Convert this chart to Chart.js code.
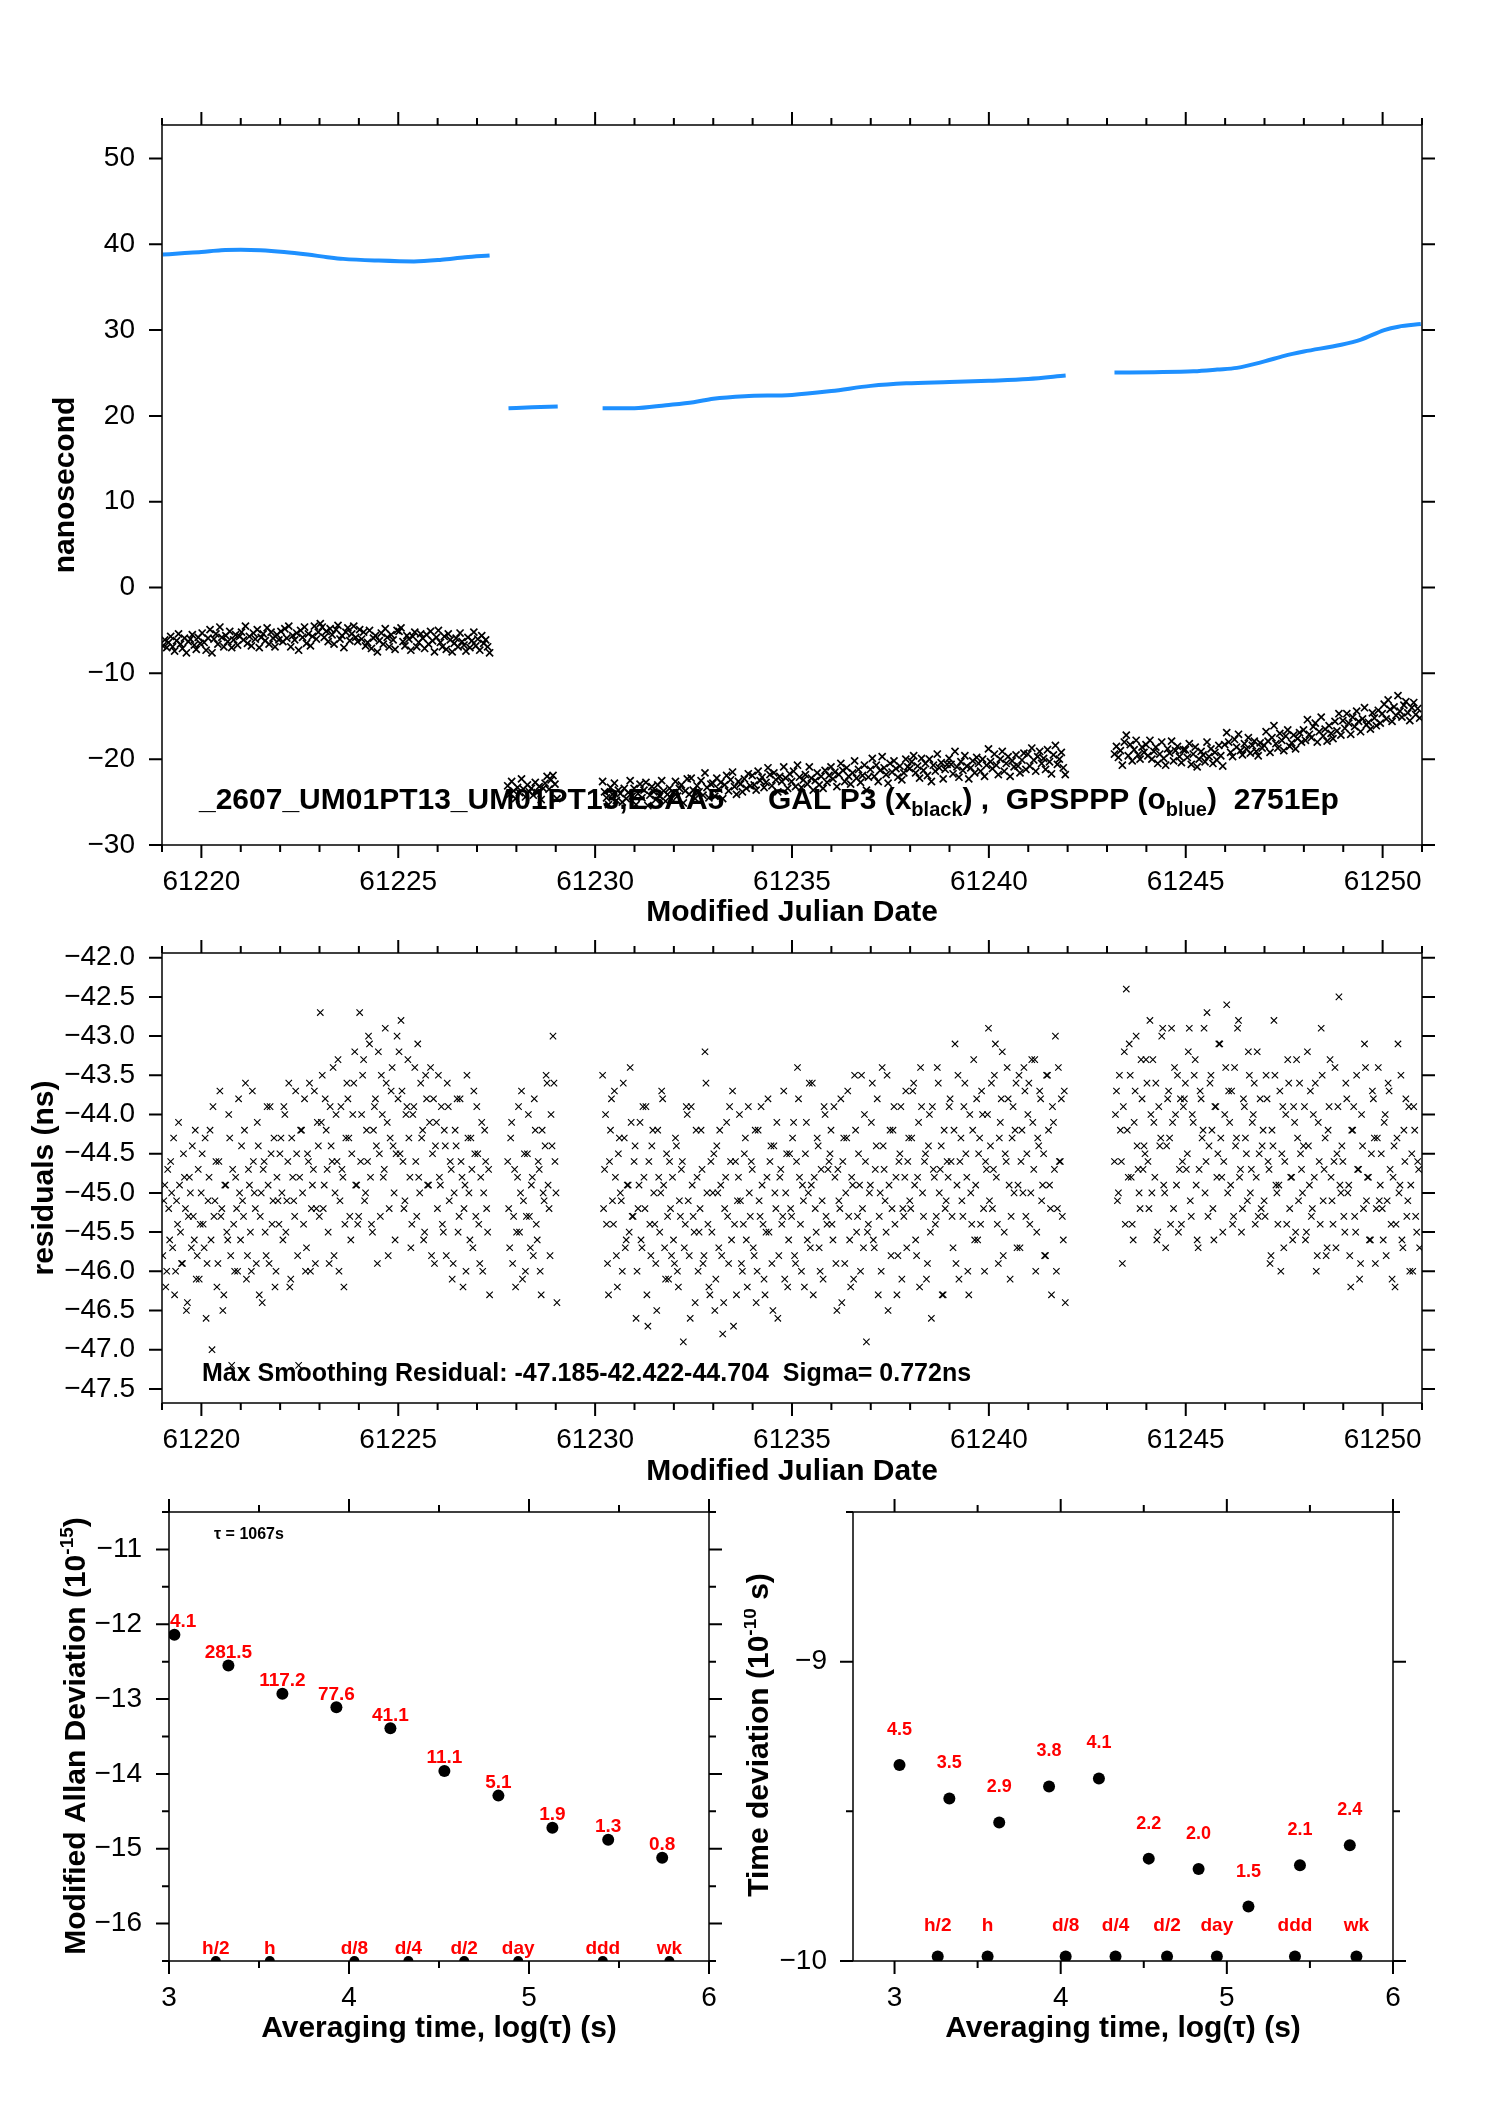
<!DOCTYPE html>
<html>
<head>
<meta charset="utf-8">
<script src="https://cdn.jsdelivr.net/npm/chart.js@4.4.1/dist/chart.umd.min.js"></script>
<style>
  body { margin: 0; background: #fff; width: 1488px; height: 2105px; position: relative; overflow: hidden; }
  canvas { position: absolute; }
</style>
</head>
<body>
<canvas id="clockChart" width="1488" height="935" style="left:0;top:0"></canvas>
<canvas id="residualChart" width="1488" height="590" style="left:0;top:905px"></canvas>
<canvas id="adevChart" width="744" height="640" style="left:0;top:1465px"></canvas>
<canvas id="tdevChart" width="744" height="640" style="left:744px;top:1465px"></canvas>
<script>
var FONT = '"Liberation Sans", Arial, Helvetica, sans-serif';
Chart.defaults.font.family = FONT;
Chart.defaults.color = '#000';
Chart.defaults.animation = false;
Chart.defaults.plugins.legend.display = false;
Chart.defaults.plugins.tooltip.enabled = false;

// sampling of the GAL P3 / residual series (days)
var sampleStep = 0.05;
var segStart = [61219.02, 61227.78, 61230.19, 61243.19];

// GPSPPP (blue), [MJD, ns]
var gpsSegA = [[61219.02,38.8],[61219.5,38.95],[61220.0,39.1],[61220.5,39.3],[61221.0,39.35],[61221.5,39.3],[61222.1,39.1],[61222.7,38.8],[61223.2,38.5],[61223.6,38.3],[61224.5,38.1],[61225.4,38.0],[61226.1,38.2],[61226.7,38.5],[61227.32,38.7]];
var gpsSegB = [[61227.8,20.9],[61228.4,21.0],[61229.05,21.1]];
var gpsSegC = [[61230.19,20.9],[61231.0,20.9],[61231.8,21.25],[61232.5,21.6],[61233.0,22.0],[61233.8,22.3],[61235.0,22.45],[61236.0,22.9],[61237.0,23.5],[61237.9,23.8],[61239.0,23.95],[61240.0,24.1],[61241.0,24.3],[61241.95,24.7]];
var gpsSegD = [[61243.19,25.06],[61244.2,25.1],[61245.2,25.2],[61245.8,25.4],[61246.3,25.6],[61247.0,26.35],[61247.5,27.0],[61248.0,27.5],[61248.95,28.3],[61249.45,28.9],[61250.04,30.0],[61250.4,30.4],[61250.97,30.7]];

// GAL P3 (black x), ns
var galSeg1 = [-6.8,-6.1,-7.0,-6.4,-5.7,-6.9,-7.4,-6.2,-5.4,-6.6,-7.1,-5.9,-7.6,-6.3,-6.0,-5.5,-6.7,-7.2,-5.8,-6.5,
  -5.3,-6.4,-7.3,-5.9,-4.9,-7.6,-6.0,-5.4,-6.6,-4.6,-5.8,-6.9,-5.6,-6.3,-5.1,-7.0,-6.1,-5.5,-6.7,-5.7,
  -5.2,-6.1,-4.5,-6.5,-5.7,-6.8,-5.3,-6.0,-4.9,-7.0,-5.8,-5.4,-6.2,-4.7,-6.6,-5.2,-5.9,-6.9,-5.5,-6.1,
  -5.1,-6.3,-4.8,-5.9,-4.5,-6.9,-5.6,-6.1,-5.3,-7.3,-5.0,-5.8,-4.6,-6.5,-5.4,-6.8,-5.7,-4.5,-6.0,-5.2,
  -4.2,-4.6,-5.8,-5.1,-6.3,-4.8,-5.5,-6.6,-4.9,-4.4,-6.0,-5.6,-7.0,-5.2,-4.7,-6.2,-5.4,-4.5,-5.8,-6.3,
  -4.9,-6.0,-5.2,-6.8,-6.4,-5.0,-7.1,-5.9,-5.6,-7.5,-6.2,-5.3,-6.6,-4.8,-5.8,-6.9,-5.5,-6.1,-7.2,-5.0,
  -5.1,-4.7,-6.3,-6.8,-5.6,-6.0,-7.3,-5.7,-5.2,-6.9,-6.4,-5.4,-5.9,-7.1,-5.5,-6.6,-5.1,-6.2,-7.5,-5.8,
  -5.0,-6.4,-6.9,-5.7,-7.2,-5.4,-6.1,-7.5,-6.5,-5.9,-6.9,-5.3,-6.3,-6.7,-7.4,-5.8,-7.0,-6.2,-5.2,-6.8,-6.0,-7.3,-5.6,-6.5,-6.1,-6.9,-7.6];
var galSeg2 = [-23.1,-24.1,-22.6,-23.7,-24.6,-23.3,-23.9,-22.3,-23.5,-24.4,-23.0,-23.8,-23.4,-24.2,-22.7,-23.9,-23.2,-24.7,-23.4,-22.8,-22.0,-23.5,-22.4,-21.9,-22.9,-24.6];
var galSeg3 = [-22.6,-23.8,-24.5,-25.3,-23.3,-24.1,-22.8,-24.8,-23.6,-24.0,-25.0,-23.4,-24.6,-23.9,-22.5,-24.3,
  -23.4,-25.3,-24.0,-22.9,-24.5,-23.6,-22.7,-25.4,-24.2,-23.2,-23.8,-24.7,-23.0,-24.3,-22.5,-23.7,-24.9,-24.1,-23.4,-24.6,
  -23.9,-22.6,-24.3,-23.4,-23.0,-25.1,-23.7,-22.3,-24.1,-22.2,-23.6,-24.6,-23.1,-23.8,-22.5,-24.2,-21.6,-23.3,-24.5,-22.9,
  -22.8,-24.3,-22.2,-23.5,-22.7,-24.6,-23.0,-21.9,-23.7,-22.4,-21.5,-23.2,-24.1,-22.6,-22.9,-23.8,-22.3,-23.4,-21.7,-23.1,
  -21.9,-23.0,-23.6,-21.4,-22.5,-22.1,-23.3,-22.7,-21.0,-21.8,-23.1,-21.6,-22.4,-23.8,-22.0,-22.6,-20.9,-22.2,-23.4,-21.7,
  -22.6,-21.4,-23.2,-20.7,-22.1,-23.3,-22.4,-21.8,-22.9,-20.9,-22.2,-23.6,-22.5,-21.6,-23.0,-22.0,-23.4,-21.3,-22.7,-21.9,
  -20.9,-22.3,-21.5,-23.2,-21.8,-20.5,-21.3,-22.6,-21.0,-22.0,-22.9,-21.6,-20.2,-22.2,-21.2,-22.7,-21.9,-20.7,-23.6,-22.1,
  -21.2,-19.9,-22.0,-20.7,-22.6,-21.3,-19.7,-21.0,-21.8,-22.8,-20.5,-21.5,-20.2,-21.1,-22.1,-20.8,-22.4,-21.6,-20.0,-20.9,
  -21.1,-20.3,-19.6,-21.6,-20.8,-22.2,-19.9,-21.3,-20.5,-21.9,-20.0,-22.6,-20.7,-21.4,-19.4,-21.0,-20.4,-22.3,-21.2,-20.6,
  -19.9,-20.6,-21.7,-19.1,-20.9,-22.1,-20.3,-21.3,-19.6,-20.8,-22.3,-21.0,-20.2,-21.6,-19.8,-20.5,-21.4,-20.0,-22.0,-20.7,
  -18.8,-20.3,-21.1,-19.4,-20.7,-21.8,-20.0,-19.1,-21.4,-20.5,-19.7,-22.0,-20.2,-20.9,-19.5,-20.8,-21.6,-20.1,-19.3,-21.2,
  -19.4,-20.8,-18.7,-20.1,-21.4,-19.7,-19.1,-20.5,-19.9,-21.2,-18.9,-20.3,-21.7,-19.5,-18.4,-20.6,-20.0,-19.2,-21.0,-21.8];
var galSeg4 = [-19.4,-18.5,-19.8,-19.0,-20.7,-18.0,-17.2,-19.6,-18.3,-20.2,-18.9,-17.8,-19.5,-20.0,-18.6,-19.2,
  -18.3,-19.6,-17.8,-20.0,-19.1,-18.6,-20.5,-19.4,-18.0,-19.9,-20.7,-18.8,-19.3,-17.9,-20.2,-19.0,-18.5,-19.7,-20.4,-18.9,
  -18.9,-19.8,-18.2,-20.6,-19.4,-18.6,-20.9,-20.0,-19.1,-19.5,-20.3,-18.0,-19.7,-18.8,-20.5,-19.2,-20.1,-18.4,-19.6,-20.8,
  -18.3,-16.9,-18.0,-19.2,-19.7,-17.7,-18.6,-17.1,-19.0,-19.5,-18.2,-18.8,-17.5,-19.3,-18.4,-17.9,-19.1,-19.6,-18.1,-18.7,
  -18.4,-16.8,-17.9,-19.2,-17.5,-16.1,-18.2,-18.7,-17.0,-17.8,-19.0,-17.3,-16.6,-18.5,-18.1,-17.2,-18.8,-17.6,-16.9,-18.0,
  -16.6,-17.8,-15.4,-17.1,-17.5,-16.2,-15.8,-18.0,-16.8,-15.1,-17.3,-16.5,-17.9,-16.1,-17.0,-17.6,-15.6,-16.7,-14.7,-17.2,
  -15.5,-16.4,-14.7,-15.8,-17.1,-15.1,-16.2,-14.4,-15.6,-16.8,-15.3,-14.0,-16.0,-15.7,-16.5,-14.6,-15.2,-16.1,-14.3,-15.8,
  -14.7,-13.6,-15.3,-13.1,-14.2,-15.6,-13.9,-14.9,-12.6,-14.4,-15.1,-13.7,-13.3,-14.6,-15.5,-14.0,-13.4,-14.8,-14.1,-15.2];

// residuals, ns (samples on the step)
var resSeg1 = [-45.8,-44.9,-46.0,-45.2,-44.6,-45.7,-46.3,-45.1,-44.1,-45.5,-45.9,-44.8,-46.5,-45.3,-45.0,-44.4,-45.6,-46.1,-44.7,-45.4,
  -44.5,-45.7,-46.6,-45.1,-44.2,-47.0,-45.3,-44.6,-45.9,-43.7,-45.2,-46.3,-44.9,-45.6,-44.3,-47.2,-45.4,-44.8,-46.0,-45.0,
  -44.4,-45.3,-43.6,-45.8,-44.9,-46.0,-44.6,-45.2,-44.1,-46.3,-45.0,-44.7,-45.5,-43.9,-45.9,-44.5,-45.1,-46.2,-44.8,-45.4,
  -44.3,-45.6,-44.0,-45.1,-43.6,-46.1,-44.8,-45.3,-44.5,-47.2,-44.2,-45.0,-43.8,-45.7,-44.6,-46.0,-44.9,-43.7,-45.2,-44.4,
  -42.7,-43.5,-44.9,-44.2,-45.5,-43.9,-44.6,-45.8,-44.0,-43.3,-45.1,-44.7,-46.2,-44.3,-43.8,-45.3,-44.5,-43.6,-44.9,-45.4,
  -42.7,-44.0,-43.3,-45.0,-44.6,-43.1,-45.4,-44.2,-43.8,-45.9,-44.5,-43.5,-44.8,-42.9,-44.1,-45.2,-43.7,-44.4,-45.6,-43.0,
  -43.2,-42.8,-44.6,-45.1,-43.9,-44.3,-45.7,-44.0,-43.4,-45.3,-44.8,-43.6,-44.2,-45.5,-43.8,-44.9,-43.4,-44.5,-45.9,-44.1,
  -43.5,-44.9,-45.4,-44.2,-45.8,-43.9,-44.6,-46.1,-45.0,-44.4,-45.5,-43.8,-44.8,-45.2,-46.0,-44.3,-45.6,-44.7,-43.7,-45.3,-44.5,-45.9,-44.1,-45.0,-44.6,-45.5,-46.3];
var resSeg2 = [-44.6,-45.7,-44.1,-45.3,-46.2,-44.8,-45.5,-43.7,-45.1,-46.0,-44.5,-45.3,-44.9,-45.8,-44.2,-45.6,-44.7,-46.3,-45.0,-44.4,-43.6,-45.2,-44.0,-43.0,-44.6,-46.4];
var resSeg3 = [-43.5,-44.7,-45.4,-46.3,-44.2,-45.1,-43.7,-45.8,-44.5,-45.0,-46.0,-44.3,-45.6,-44.9,-43.4,-45.3,
  -44.6,-46.6,-45.2,-44.1,-45.7,-44.8,-43.9,-46.7,-45.4,-44.4,-45.0,-45.9,-44.2,-45.5,-43.7,-44.9,-46.1,-45.3,-44.6,-45.8,
  -45.6,-44.3,-46.0,-45.1,-44.7,-46.9,-45.4,-44.0,-45.8,-43.9,-45.3,-46.4,-44.8,-45.5,-44.2,-45.9,-43.2,-45.0,-46.2,-44.6,
  -45.0,-46.5,-44.4,-45.7,-44.9,-46.8,-45.2,-44.1,-45.9,-44.6,-43.7,-45.4,-46.3,-44.8,-45.1,-46.0,-44.5,-45.6,-43.9,-45.3,
  -44.7,-45.8,-46.4,-44.2,-45.3,-44.9,-46.1,-45.5,-43.8,-44.6,-45.9,-44.4,-45.2,-46.6,-44.8,-45.4,-43.7,-45.0,-46.2,-44.5,
  -45.3,-44.1,-45.9,-43.4,-44.8,-46.0,-45.1,-44.5,-45.6,-43.6,-44.9,-46.3,-45.2,-44.3,-45.7,-44.7,-46.1,-44.0,-45.4,-44.6,
  -44.2,-45.6,-44.8,-46.5,-45.1,-43.8,-44.6,-45.9,-44.3,-45.3,-46.2,-44.9,-43.5,-45.5,-44.5,-46.0,-45.2,-44.0,-46.9,-45.4,
  -44.9,-43.6,-45.7,-44.4,-46.3,-45.0,-43.4,-44.7,-45.5,-46.5,-44.2,-45.2,-43.9,-44.8,-45.8,-44.5,-46.1,-45.3,-43.7,-44.6,
  -45.1,-44.3,-43.6,-45.6,-44.8,-46.2,-43.9,-45.3,-44.5,-45.9,-44.0,-46.6,-44.7,-45.4,-43.4,-45.0,-44.4,-46.3,-45.2,-44.6,
  -43.9,-44.6,-45.7,-43.1,-44.9,-46.1,-44.3,-45.3,-43.6,-44.8,-46.3,-45.0,-44.2,-45.6,-43.8,-44.5,-45.4,-44.0,-46.0,-44.7,
  -42.9,-44.4,-45.2,-43.5,-44.8,-45.9,-44.1,-43.2,-45.5,-44.6,-43.8,-46.1,-44.3,-45.0,-43.6,-44.9,-45.7,-44.2,-43.4,-45.3,
  -44.0,-45.4,-43.3,-44.7,-46.0,-44.3,-43.7,-45.1,-44.5,-45.8,-43.5,-44.9,-46.3,-44.1,-43.0,-45.2,-44.6,-43.8,-45.6,-46.4];
var resSeg4 = [-44.6,-43.7,-45.0,-44.2,-45.9,-43.2,-42.4,-44.8,-43.5,-45.4,-44.1,-43.0,-44.7,-45.2,-43.8,-44.4,
  -43.3,-44.6,-42.8,-45.0,-44.1,-43.6,-45.5,-44.4,-43.0,-44.9,-45.7,-43.8,-44.3,-42.9,-45.2,-44.0,-43.5,-44.7,-45.4,-43.9,
  -43.6,-44.5,-42.9,-45.3,-44.1,-43.3,-45.6,-44.7,-43.8,-44.2,-45.0,-42.7,-44.4,-43.5,-45.2,-43.9,-44.8,-43.1,-44.3,-45.5,
  -44.0,-42.6,-43.7,-44.9,-45.4,-43.4,-44.3,-42.8,-44.7,-45.2,-43.9,-44.5,-43.2,-45.0,-44.1,-43.6,-44.8,-45.3,-43.8,-44.4,
  -45.1,-43.5,-44.6,-45.9,-44.2,-42.8,-44.9,-45.4,-43.7,-44.5,-45.7,-44.0,-43.3,-45.2,-44.8,-43.9,-45.5,-44.3,-43.6,-44.7,
  -44.4,-45.6,-43.2,-44.9,-45.3,-44.0,-43.6,-45.8,-44.6,-42.9,-45.1,-44.3,-45.7,-43.9,-44.8,-45.4,-43.4,-44.5,-42.5,-45.0,
  -44.6,-45.5,-43.8,-44.9,-46.2,-44.2,-45.3,-43.5,-44.7,-45.9,-44.4,-43.1,-45.1,-44.8,-45.6,-43.7,-44.3,-45.2,-43.4,-44.9,
  -45.2,-44.1,-45.8,-43.6,-44.7,-46.1,-44.4,-45.4,-43.1,-44.9,-45.6,-44.2,-43.8,-45.1,-46.0,-44.5,-43.9,-45.3,-44.6,-45.7];
// residuals, ns (samples half a step later)
var resSeg1Mid = [-45.1,-46.2,-44.7,-45.6,-45.0,-44.3,-46.0,-45.4,-44.9,-45.9,-44.5,-45.2,-46.4,-44.8,-45.7,-45.3,-44.2,-45.8,-46.1,-45.0,
  -45.4,-44.3,-45.9,-44.8,-45.6,-43.9,-45.1,-46.2,-44.6,-45.3,-46.5,-44.9,-45.5,-44.0,-45.8,-44.7,-46.0,-45.2,-43.8,-45.6,
  -45.1,-44.2,-46.1,-44.7,-45.5,-43.7,-45.0,-45.9,-44.4,-45.3,-46.4,-44.6,-45.8,-44.9,-43.9,-45.4,-44.3,-46.0,-45.1,-44.5,
  -45.0,-43.9,-45.5,-44.6,-46.2,-44.3,-45.1,-43.7,-45.8,-44.8,-44.2,-45.4,-46.0,-44.5,-43.6,-45.2,-44.7,-45.9,-44.1,-45.3,
  -44.1,-45.2,-43.8,-44.7,-45.9,-44.4,-43.4,-45.0,-44.6,-46.0,-43.9,-44.8,-45.4,-43.6,-44.3,-45.6,-44.0,-43.2,-44.9,-45.3,
  -44.6,-43.5,-45.1,-44.2,-43.0,-44.8,-45.5,-43.9,-44.4,-43.2,-45.3,-44.0,-44.7,-43.6,-45.8,-44.3,-43.4,-45.0,-44.5,-43.8,
  -44.5,-43.7,-45.2,-44.0,-43.3,-44.8,-45.4,-43.9,-44.6,-43.1,-45.0,-44.3,-45.6,-43.5,-44.9,-44.1,-45.8,-43.8,-44.4,-45.2,
  -44.8,-43.9,-45.5,-44.4,-43.6,-45.1,-44.7,-45.9,-44.2,-43.8,-45.3,-44.6,-46.2,-44.9,-43.5,-45.0,-44.3,-45.7,-44.5,-43.9,-45.4,-44.8,-46.0,-44.2,-45.2,-44.7];
var resSeg2Mid = [-45.2,-44.3,-45.9,-44.7,-45.5,-43.9,-45.0,-46.1,-44.5,-45.3,-44.0,-45.7,-44.8,-43.8,-45.4,-44.6,-46.0,-44.2,-45.1,-43.5,-44.9,-45.8,-44.4,-43.6,-45.0];
var resSeg3Mid = [-45.2,-44.0,-45.9,-44.6,-43.8,-45.4,-44.8,-46.2,-44.3,-45.1,-43.6,-45.7,-44.9,-45.5,-44.1,
  -45.3,-44.4,-46.0,-44.9,-45.6,-43.9,-45.2,-46.3,-44.6,-45.8,-44.2,-45.4,-46.5,-44.8,-45.0,-43.8,-45.7,-44.5,-46.1,-45.2,
  -44.8,-45.9,-44.4,-46.2,-45.3,-44.6,-45.7,-43.9,-45.1,-46.6,-44.9,-45.5,-44.2,-46.0,-45.2,-44.7,-45.8,-43.6,-45.4,-46.3,
  -45.5,-44.5,-46.1,-45.0,-44.2,-45.8,-46.4,-44.8,-45.3,-43.9,-45.6,-46.7,-44.6,-45.1,-44.0,-45.9,-45.4,-44.3,-46.2,-45.0,
  -44.6,-45.7,-44.2,-46.0,-45.1,-43.9,-45.4,-46.3,-44.8,-45.5,-44.4,-46.5,-45.0,-44.1,-45.8,-44.7,-45.3,-46.1,-44.5,-45.6,
  -45.2,-44.3,-45.8,-44.6,-43.8,-45.4,-44.9,-46.2,-44.1,-45.0,-45.7,-43.6,-44.8,-45.5,-44.4,-46.0,-45.1,-43.9,-45.3,-44.7,
  -44.5,-45.4,-43.9,-45.9,-44.7,-45.2,-46.4,-44.3,-45.0,-43.7,-45.6,-44.8,-46.1,-44.2,-45.3,-44.9,-43.5,-45.7,-44.6,-45.5,
  -45.0,-44.1,-45.6,-44.7,-43.8,-45.3,-46.0,-44.4,-45.1,-43.5,-44.9,-45.8,-44.2,-45.4,-46.3,-44.6,-43.9,-45.2,-44.8,-45.7,
  -44.3,-45.2,-43.7,-44.9,-45.8,-44.1,-43.4,-45.0,-44.6,-46.1,-44.4,-45.5,-43.9,-44.8,-45.3,-43.6,-44.7,-46.3,-44.2,-45.1,
  -44.8,-43.8,-45.3,-44.2,-45.9,-43.5,-44.6,-45.1,-43.9,-44.5,-46.0,-44.0,-45.4,-43.3,-44.9,-45.6,-44.3,-43.7,-45.2,-44.6,
  -44.0,-45.1,-43.6,-44.7,-43.1,-45.4,-44.3,-43.8,-45.8,-44.5,-43.4,-44.9,-45.3,-43.9,-44.2,-45.7,-43.5,-44.6,-45.0,-43.7,
  -44.5,-43.6,-45.0,-44.1,-43.3,-45.5,-44.4,-43.8,-44.9,-45.8,-43.5,-44.2,-45.2,-43.9,-44.7,-46.0,-43.4,-44.6,-45.3,-43.7];
var resSeg4Mid = [-44.0,-45.1,-43.5,-44.6,-43.9,-45.4,-44.2,-43.1,-44.8,-45.6,-43.7,-44.4,-45.0,-43.3,-44.7,
  -44.5,-43.6,-45.2,-44.0,-43.3,-44.8,-45.6,-43.9,-44.3,-42.9,-45.0,-44.4,-43.7,-45.4,-44.1,-43.4,-44.9,-45.5,-43.8,-44.6,
  -43.8,-44.7,-43.2,-45.1,-44.0,-43.5,-44.9,-45.7,-43.7,-44.3,-42.9,-44.6,-45.3,-43.6,-44.2,-45.6,-43.9,-44.5,-43.1,-44.8,
  -44.6,-43.4,-45.0,-44.1,-43.7,-45.3,-44.4,-42.9,-44.8,-45.5,-43.8,-44.3,-45.1,-43.5,-44.7,-44.0,-45.4,-43.2,-44.5,-45.2,
  -44.2,-45.3,-43.8,-44.7,-45.8,-44.4,-43.5,-45.0,-44.9,-46.0,-43.9,-44.6,-45.4,-43.6,-44.8,-45.6,-44.1,-43.3,-45.1,-44.5,
  -45.0,-43.9,-45.5,-44.4,-43.7,-45.2,-44.8,-46.0,-44.1,-45.4,-43.5,-44.7,-45.8,-44.2,-43.3,-45.1,-44.6,-45.7,-43.9,-44.9,
  -44.4,-45.3,-43.6,-45.0,-45.8,-44.2,-43.9,-45.5,-44.7,-46.1,-44.0,-45.2,-43.4,-44.8,-45.6,-44.5,-43.8,-45.9,-44.3,-45.1,
  -44.5,-45.6,-44.0,-45.1,-43.7,-45.4,-44.8,-46.2,-44.3,-45.0,-43.5,-45.7,-44.6,-45.3,-43.9,-44.9,-46.0,-44.2,-45.5,-44.7];

// stability, log10(tau/s)
var adevX = [3.03, 3.33, 3.63, 3.93, 4.23, 4.53, 4.83, 5.13, 5.44, 5.74];
var adevY = [-12.14, -12.55, -12.93, -13.11, -13.39, -13.96, -14.29, -14.72, -14.88, -15.12];
var adevLabels = ['4.1', '281.5', '117.2', '77.6', '41.1', '11.1', '5.1', '1.9', '1.3', '0.8'];
var tdevX = [3.03, 3.33, 3.63, 3.93, 4.23, 4.53, 4.83, 5.13, 5.44, 5.74];
var tdevY = [-9.345, -9.457, -9.537, -9.417, -9.390, -9.658, -9.693, -9.818, -9.680, -9.613];
var tdevLabels = ['4.5', '3.5', '2.9', '3.8', '4.1', '2.2', '2.0', '1.5', '2.1', '2.4'];
var spanX = [3.26, 3.56, 4.03, 4.33, 4.64, 4.94, 5.41, 5.78];
var spanNames = ['h/2', 'h', 'd/8', 'd/4', 'd/2', 'day', 'ddd', 'wk'];
var adevFloor = -16.5;
var tdevFloor = -9.985;

function segPoints(start, values) {
  return values.map(function(v, i) { return {x: start + i * sampleStep, y: v}; });
}
function pairPoints(pairs) {
  return pairs.map(function(p) { return {x: p[0], y: p[1]}; });
}
function xyPoints(xs, ys) {
  return xs.map(function(x, i) { return {x: x, y: ys[i]}; });
}
function minusFmt(v) { return v < 0 ? '\u2212' + Math.abs(v) : String(v); }
function minusFmt1(v) { return (v < 0 ? '\u2212' : '') + Math.abs(v).toFixed(1); }

// ticks at whole multiples of the step, inside [min, max]
function stepTicks(step) {
  return function(s) {
    var out = [];
    for (var i = Math.ceil(s.min / step - 1e-6); i * step <= s.max + 1e-6; i++) {
      out.push({value: +(i * step).toFixed(6)});
    }
    s.ticks = out;
  };
}

function xAxis(min, max, step, height, title, titlePad) {
  return {
    type: 'linear', position: 'bottom', min: min, max: max,
    grid: {display: false, drawTicks: false},
    border: {display: false},
    ticks: {autoSkip: false, maxRotation: 0, padding: 20, font: {size: 28}, callback: minusFmt},
    title: {display: true, text: title, font: {size: 30, weight: 'bold'}, padding: {top: 0, bottom: titlePad}},
    afterBuildTicks: stepTicks(step),
    afterFit: function(s) { s.height = height; }
  };
}
function yAxis(min, max, step, width, pad, fmt, title, titlePad) {
  return {
    type: 'linear', position: 'left', min: min, max: max,
    grid: {display: false, drawTicks: false},
    border: {display: false},
    ticks: {autoSkip: false, padding: pad, font: {size: 28}, callback: fmt},
    title: {display: !!title, text: title || '', font: {size: 30, weight: 'bold'}, padding: {top: titlePad || 0, bottom: 0}},
    afterBuildTicks: stepTicks(step),
    afterFit: function(s) { s.width = width; }
  };
}

function tickRow(ctx, scale, step, horizontal, a) {
  var majors = scale.ticks.map(function(t) { return t.value; });
  var first = Math.ceil(scale.min / step - 1e-6);
  var last = Math.floor(scale.max / step + 1e-6);
  ctx.beginPath();
  for (var i = first; i <= last; i++) {
    var v = i * step;
    var major = majors.some(function(m) { return Math.abs(m - v) < step / 100; });
    var len = major ? 13 : 7;
    var p = scale.getPixelForValue(v);
    if (horizontal) {
      ctx.moveTo(p, a.bottom); ctx.lineTo(p, a.bottom + len);
      ctx.moveTo(p, a.top); ctx.lineTo(p, a.top - len);
    } else {
      ctx.moveTo(a.left, p); ctx.lineTo(a.left - len, p);
      ctx.moveTo(a.right, p); ctx.lineTo(a.right + len, p);
    }
  }
  ctx.stroke();
}
function makeFrame(xStep, yStep) {
  return {
    id: 'frame',
    afterDraw: function(chart) {
      var ctx = chart.ctx, a = chart.chartArea;
      ctx.save();
      ctx.strokeStyle = '#000';
      ctx.lineWidth = 1.5;
      ctx.strokeRect(a.left, a.top, a.right - a.left, a.bottom - a.top);
      ctx.lineWidth = 2;
      tickRow(ctx, chart.scales.x, xStep, true, a);
      tickRow(ctx, chart.scales.y, yStep, false, a);
      ctx.restore();
    }
  };
}

function drawRuns(ctx, x, y, runs) {
  runs.forEach(function(r) {
    ctx.font = 'bold ' + r[1] + 'px ' + FONT;
    ctx.fillText(r[0], x, y + r[2]);
    x += ctx.measureText(r[0]).width;
  });
  return x;
}
function runsWidth(ctx, runs) {
  var w = 0;
  runs.forEach(function(r) {
    ctx.font = 'bold ' + r[1] + 'px ' + FONT;
    w += ctx.measureText(r[0]).width;
  });
  return w;
}
function verticalRuns(ctx, bx, cy, runs) {
  ctx.save();
  ctx.translate(bx, cy);
  ctx.rotate(-Math.PI / 2);
  drawRuns(ctx, -runsWidth(ctx, runs) / 2, 0, runs);
  ctx.restore();
}

function makeDotLabels(sets) {
  return {
    id: 'dotLabels',
    afterDatasetsDraw: function(chart) {
      var ctx = chart.ctx, a = chart.chartArea;
      ctx.save();
      ctx.fillStyle = '#ff0000';
      ctx.textAlign = 'left';
      ctx.textBaseline = 'alphabetic';
      sets.forEach(function(set) {
        var meta = chart.getDatasetMeta(set.dataset);
        ctx.font = 'bold ' + set.size + 'px ' + FONT;
        meta.data.forEach(function(el, i) {
          var w = ctx.measureText(set.texts[i]).width;
          var x = Math.max(el.x - w / 2, a.left + 1);
          ctx.fillText(set.texts[i], x, el.y - set.lift);
        });
      });
      ctx.restore();
    }
  };
}

function crossDataset(radius, width, segs, offset) {
  var pts = [];
  segs.forEach(function(s, k) { pts = pts.concat(segPoints(segStart[k] + offset, s)); });
  return {data: pts, showLine: false, pointStyle: 'crossRot', pointRadius: radius,
    borderColor: '#000', backgroundColor: '#000', borderWidth: width};
}
function gpsDataset(seg) {
  return {data: pairPoints(seg), showLine: true, borderColor: '#1e90ff', borderWidth: 4,
    pointRadius: 0, cubicInterpolationMode: 'monotone'};
}

// top: clock offsets
var legendText = {
  id: 'legendText',
  beforeDatasetsDraw: function(chart) {
    var ctx = chart.ctx;
    ctx.save();
    ctx.fillStyle = '#000';
    ctx.textBaseline = 'alphabetic';
    drawRuns(ctx, 199, 809, [['_2607_UM01PT13_UM01PT13,E3AA5', 30, 0]]);
    drawRuns(ctx, 768, 809, [['GAL P3 (x', 30, 0], ['black', 20, 7], [') ,  GPSPPP (o', 30, 0], ['blue', 20, 7], [')  2751Ep', 30, 0]]);
    ctx.restore();
  }
};
new Chart(document.getElementById('clockChart'), {
  type: 'scatter',
  data: {
    datasets: [
      gpsDataset(gpsSegA), gpsDataset(gpsSegB), gpsDataset(gpsSegC), gpsDataset(gpsSegD),
      crossDataset(5, 1.7, [galSeg1, galSeg2, galSeg3, galSeg4], 0)
    ]
  },
  options: {
    responsive: false,
    layout: {padding: {left: 0, top: 125, right: 66, bottom: 0}},
    scales: {
      x: xAxis(61219, 61251, 5, 90, 'Modified Julian Date', 4),
      y: yAxis(-30, 53.9, 10, 162, 27, minusFmt, 'nanosecond', 48)
    }
  },
  plugins: [legendText, makeFrame(1, 10)]
});

// middle: residuals
var residualText = {
  id: 'residualText',
  beforeDatasetsDraw: function(chart) {
    var ctx = chart.ctx;
    var text = 'Max Smoothing Residual: -47.185-42.422-44.704  Sigma= 0.772ns';
    ctx.save();
    ctx.fillStyle = '#000';
    ctx.font = 'bold 26px ' + FONT;
    var size = 26 * 769 / ctx.measureText(text).width;
    ctx.font = 'bold ' + size.toFixed(1) + 'px ' + FONT;
    ctx.fillText(text, 202, 1381 - 905);
    ctx.restore();
  }
};
new Chart(document.getElementById('residualChart'), {
  type: 'scatter',
  data: {
    datasets: [
      crossDataset(4.5, 1.1, [resSeg1, resSeg2, resSeg3, resSeg4], 0),
      crossDataset(4.5, 1.1, [resSeg1Mid, resSeg2Mid, resSeg3Mid, resSeg4Mid], sampleStep / 2)
    ]
  },
  options: {
    responsive: false,
    layout: {padding: {left: 0, top: 48, right: 66, bottom: 0}},
    scales: {
      x: xAxis(61219, 61251, 5, 92, 'Modified Julian Date', 5),
      y: yAxis(-47.68, -41.94, 0.5, 162, 27, minusFmt1, 'residuals (ns)', 27)
    }
  },
  plugins: [residualText, makeFrame(1, 0.5)]
});

// bottom left: modified Allan deviation
var adevText = {
  id: 'adevText',
  afterDraw: function(chart) {
    var ctx = chart.ctx;
    ctx.save();
    ctx.fillStyle = '#000';
    ctx.textBaseline = 'alphabetic';
    drawRuns(ctx, 214, 1539 - 1465, [['\u03c4 = 1067s', 16, 0]]);
    verticalRuns(ctx, 85, 1736 - 1465, [['Modified Allan Deviation (10', 30, 0], ['-15', 19, -12], [')', 30, 0]]);
    ctx.restore();
  }
};
new Chart(document.getElementById('adevChart'), {
  type: 'scatter',
  data: {
    datasets: [
      {data: xyPoints(adevX, adevY), pointRadius: 6, backgroundColor: '#000', borderWidth: 0},
      {data: spanX.map(function(x) { return {x: x, y: adevFloor}; }), pointRadius: 5, backgroundColor: '#000', borderWidth: 0, clip: 0}
    ]
  },
  options: {
    responsive: false,
    layout: {padding: {left: 0, top: 47, right: 35, bottom: 0}},
    scales: {
      x: xAxis(3, 6, 1, 144, 'Averaging time, log(\u03c4) (s)', 58),
      y: yAxis(-16.5, -10.5, 1, 169, 27, minusFmt)
    }
  },
  plugins: [adevText, makeFrame(0.5, 0.5), makeDotLabels([
    {dataset: 0, texts: adevLabels, size: 19, lift: 7.5},
    {dataset: 1, texts: spanNames, size: 19, lift: 6.7}
  ])]
});

// bottom right: time deviation
var tdevText = {
  id: 'tdevText',
  afterDraw: function(chart) {
    var ctx = chart.ctx;
    ctx.save();
    ctx.fillStyle = '#000';
    ctx.textBaseline = 'alphabetic';
    verticalRuns(ctx, 24, 1735 - 1465, [['Time deviation (10', 30, 0], ['-10', 19, -12], [' s)', 30, 0]]);
    ctx.restore();
  }
};
new Chart(document.getElementById('tdevChart'), {
  type: 'scatter',
  data: {
    datasets: [
      {data: xyPoints(tdevX, tdevY), pointRadius: 6, backgroundColor: '#000', borderWidth: 0},
      {data: spanX.map(function(x) { return {x: x, y: tdevFloor}; }), pointRadius: 6, backgroundColor: '#000', borderWidth: 0}
    ]
  },
  options: {
    responsive: false,
    layout: {padding: {left: 0, top: 47, right: 95, bottom: 0}},
    scales: {
      x: xAxis(2.75, 6, 1, 144, 'Averaging time, log(\u03c4) (s)', 58),
      y: yAxis(-10, -8.5, 1, 109, 26, minusFmt)
    }
  },
  plugins: [tdevText, makeFrame(0.5, 0.5), makeDotLabels([
    {dataset: 0, texts: tdevLabels, size: 18, lift: 30},
    {dataset: 1, texts: spanNames, size: 19, lift: 25.8}
  ])]
});
</script>
</body>
</html>
